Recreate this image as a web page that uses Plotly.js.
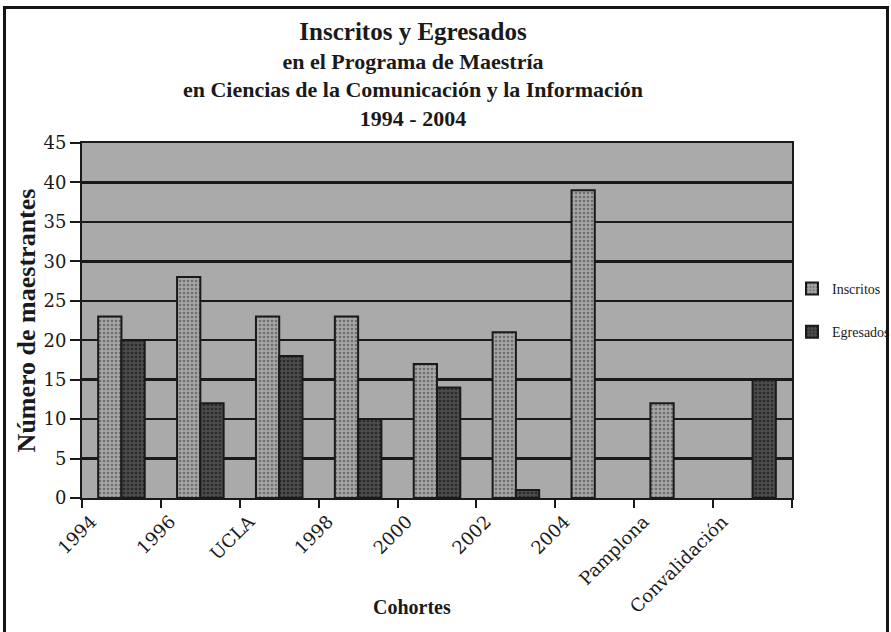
<!DOCTYPE html>
<html>
<head>
<meta charset="utf-8">
<script src="https://cdn.plot.ly/plotly-3.0.1.min.js"></script>
<style>
  html, body { margin: 0; padding: 0; background: #fff; overflow: hidden; }
  #chart { width: 891px; height: 632px; }
  #frame { position: absolute; left: 3px; top: 6px; width: 880px; height: 640px;
           border: 3px solid #151515; pointer-events: none; }
</style>
</head>
<body>
<div id="chart"></div>
<div id="frame"></div>
<script>
const categories = ["1994", "1996", "UCLA", "1998", "2000", "2002", "2004", "Pamplona", "Convalidación"];
const inscritos = [23, 28, 23, 23, 17, 21, 39, 12, 0];
const egresados = [20, 12, 18, 10, 14, 1, 0, 0, 15];
const yTicks = [0, 5, 10, 15, 20, 25, 30, 35, 40, 45];

const serif = "Liberation Serif, Times New Roman, serif";
const wideSerif = "DejaVu Serif, serif";
const outline = v => v.map(d => (d === 0 ? 0 : 2));

const traces = [
  {
    type: "bar", name: "Inscritos", x: categories, y: inscritos,
    legendgroup: "a",
    marker: { color: "#9c9c9c", line: { color: "#1a1a1a", width: outline(inscritos) },
              pattern: { shape: ".", fgcolor: "#707070", bgcolor: "#a6a6a6", size: 4, solidity: 0.35 } }
  },
  {
    type: "bar", name: "Egresados", x: categories, y: egresados,
    legendgroup: "b",
    marker: { color: "#424242", line: { color: "#1a1a1a", width: outline(egresados) },
              pattern: { shape: ".", fgcolor: "#2a2a2a", bgcolor: "#4c4c4c", size: 4, solidity: 0.35 } }
  }
];

const layout = {
  width: 891, height: 632,
  margin: { l: 82, r: 97, t: 143, b: 134 },
  paper_bgcolor: "#ffffff",
  plot_bgcolor: "#aaaaaa",
  barmode: "group",
  bargap: 0.41,
  bargroupgap: 0,
  showlegend: true,
  title: {
    text: "<span style='font-size:25px'>Inscritos y Egresados</span><br>en el Programa de Maestría<br>en Ciencias de la Comunicación y la Información<br>1994 - 2004",
    font: { family: serif, size: 22, color: "#1a1a1a", weight: "bold" },
    x: 413 / 891, xanchor: "center",
    y: 1 - 40 / 632, yanchor: "top", yref: "container"
  },
  font: { family: serif, color: "#1a1a1a" },
  xaxis: {
    type: "category",
    categoryorder: "array", categoryarray: categories,
    tickson: "boundaries",
    ticks: "outside", ticklen: 8, tickwidth: 2, tickcolor: "#1a1a1a",
    tickangle: -45,
    ticklabelshift: -30,
    ticklabelstandoff: 4,
    tickfont: { family: wideSerif, size: 18, color: "#1a1a1a" },
    showline: true, linecolor: "#1a1a1a", linewidth: 2, mirror: true,
    showgrid: false, zeroline: false,
    range: [-0.5, categories.length - 0.5]
  },
  yaxis: {
    range: [0, 45],
    tickmode: "array", tickvals: yTicks, ticktext: yTicks.map(String),
    ticks: "outside", ticklen: 10, tickwidth: 2, tickcolor: "#1a1a1a",
    tickfont: { family: wideSerif, size: 18, color: "#1a1a1a" },
    showline: true, linecolor: "#1a1a1a", linewidth: 2, mirror: true,
    showgrid: true, gridcolor: "#1a1a1a", gridwidth: 2.5,
    zeroline: false,
    title: { text: "Número de maestrantes", font: { family: serif, size: 26, color: "#1a1a1a", weight: "bold" }, standoff: 0 }
  },
  legend: {
    x: 792 / 891, xanchor: "left", xref: "container",
    y: 1 - 273 / 632, yanchor: "top", yref: "container",
    bgcolor: "rgba(0,0,0,0)",
    font: { family: serif, size: 14, color: "#1a1a1a" },
    tracegroupgap: 22,
    itemwidth: 30
  },
  annotations: [
    {
      text: "<b>Cohortes</b>", xref: "paper", yref: "paper",
      x: (413 - 82) / (794 - 82), y: -(607 - 498) / (498 - 143),
      xanchor: "center", yanchor: "middle", showarrow: false,
      font: { family: serif, size: 20, color: "#1a1a1a" }
    }
  ]
};

Plotly.newPlot("chart", traces, layout, { displayModeBar: false, staticPlot: true });
</script>
</body>
</html>
